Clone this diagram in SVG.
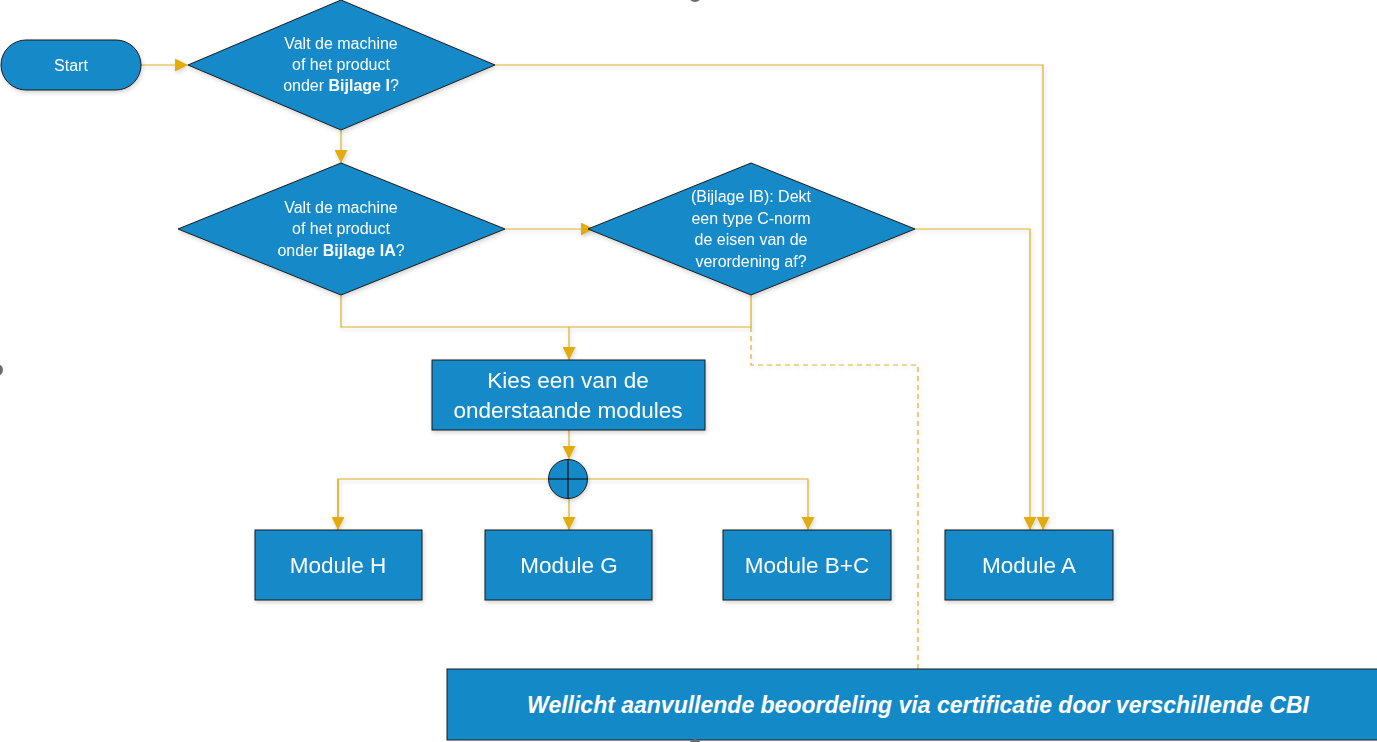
<svg xmlns="http://www.w3.org/2000/svg" width="1377" height="742" viewBox="0 0 1377 742">
  <style>
    .shape { fill: #1389C8; stroke: #1c1c1c; stroke-width: 1; }
    .lbl { fill: #ffffff; font-family: "Liberation Sans", Arial, sans-serif; text-anchor: middle; }
    .q { font-size: 16px; }
    .m { font-size: 22.5px; }
    .wire { fill: none; stroke: #DDAE2A; stroke-width: 1.2; }
    .dash { stroke-dasharray: 5 4; }
    .handle { fill: #6b6b6b; }
  </style>
  <defs>
    <marker id="tip" viewBox="0 0 13 13" refX="13" refY="6.5" markerWidth="13" markerHeight="13" markerUnits="userSpaceOnUse" orient="auto">
      <path d="M0,0 L13,6.5 L0,13 Z" fill="#E2AC0B"/>
    </marker>
    <filter id="soft" x="-10%" y="-10%" width="120%" height="130%">
      <feDropShadow dx="1" dy="2" stdDeviation="2" flood-color="#000" flood-opacity="0.18"/>
    </filter>
  </defs>
  <rect width="1377" height="742" fill="#ffffff"/>

  <!-- connectors -->
  <g id="connectors" filter="url(#soft)">
    <path class="wire" d="M141,65 H188" marker-end="url(#tip)"/>
    <path class="wire" d="M495,65 H1043 V530" marker-end="url(#tip)"/>
    <path class="wire" d="M341,130 V163" marker-end="url(#tip)"/>
    <path class="wire" d="M505,229 H594" marker-end="url(#tip)"/>
    <path class="wire" d="M915,229 H1030 V530" marker-end="url(#tip)"/>
    <path class="wire" d="M341,295 V327 H751 V295"/>
    <path class="wire" d="M569,327 V360" marker-end="url(#tip)"/>
    <path class="wire dash" d="M751,327 V365 H918 V669"/>
    <path class="wire" d="M569,430 V459" marker-end="url(#tip)"/>
    <path class="wire" d="M338,530 V479 H808 V530" marker-end="url(#tip)"/>
    <path class="wire" d="M338,479 V530" marker-end="url(#tip)"/>
    <path class="wire" d="M569,499 V530" marker-end="url(#tip)"/>
  </g>

  <g id="start" filter="url(#soft)">
    <rect class="shape" x="1" y="40" width="140" height="50" rx="25" ry="25"/>
    <text class="lbl q" x="71" y="71">Start</text>
  </g>

  <g id="q-bijlage-i" filter="url(#soft)">
    <polygon class="shape" points="341,0 495,65 341,130 188,65"/>
    <text class="lbl q" x="341" y="49">Valt de machine</text>
    <text class="lbl q" x="341" y="70">of het product</text>
    <text class="lbl q" x="341" y="91">onder <tspan font-weight="bold">Bijlage I</tspan>?</text>
  </g>

  <g id="q-bijlage-ia" filter="url(#soft)">
    <polygon class="shape" points="341,163 505,229 341,295 178,229"/>
    <text class="lbl q" x="341" y="213">Valt de machine</text>
    <text class="lbl q" x="341" y="234">of het product</text>
    <text class="lbl q" x="341" y="256">onder <tspan font-weight="bold">Bijlage IA</tspan>?</text>
  </g>

  <g id="q-bijlage-ib" filter="url(#soft)">
    <polygon class="shape" points="751,163 915,229 751,295 588,229"/>
    <text class="lbl q" x="751" y="202">(Bijlage IB): Dekt</text>
    <text class="lbl q" x="751" y="224">een type C-norm</text>
    <text class="lbl q" x="751" y="245">de eisen van de</text>
    <text class="lbl q" x="751" y="267">verordening af?</text>
  </g>

  <g id="kies" filter="url(#soft)">
    <rect class="shape" x="432" y="360" width="273" height="70"/>
    <text class="lbl m" x="568" y="388">Kies een van de</text>
    <text class="lbl m" x="568" y="418">onderstaande modules</text>
  </g>

  <g id="or-junction" filter="url(#soft)">
    <circle class="shape" cx="568" cy="479" r="19.5"/>
    <path d="M548.5,479 H587.5 M568,459.5 V498.5" stroke="#111" stroke-width="1.2"/>
  </g>

  <g id="module-h" filter="url(#soft)">
    <rect class="shape" x="255" y="530" width="167" height="70"/>
    <text class="lbl m" x="338" y="573">Module H</text>
  </g>
  <g id="module-g" filter="url(#soft)">
    <rect class="shape" x="485" y="530" width="167" height="70"/>
    <text class="lbl m" x="569" y="573">Module G</text>
  </g>
  <g id="module-bc" filter="url(#soft)">
    <rect class="shape" x="723" y="530" width="168" height="70"/>
    <text class="lbl m" x="807" y="573">Module B+C</text>
  </g>
  <g id="module-a" filter="url(#soft)">
    <rect class="shape" x="945" y="530" width="168" height="70"/>
    <text class="lbl m" x="1029" y="573">Module A</text>
  </g>

  <g id="cbi-note">
    <rect class="shape" x="447" y="669" width="940" height="71"/>
    <text class="lbl" x="918" y="713" font-size="23" font-weight="bold" font-style="italic">Wellicht aanvullende beoordeling via certificatie door verschillende CBI</text>
  </g>

  <!-- selection handles cut by the canvas edge -->
  <circle class="handle" cx="-3" cy="370" r="6"/>
  <circle class="handle" cx="695" cy="-4" r="6"/>
  <circle class="handle" cx="695" cy="745" r="6"/>
</svg>
